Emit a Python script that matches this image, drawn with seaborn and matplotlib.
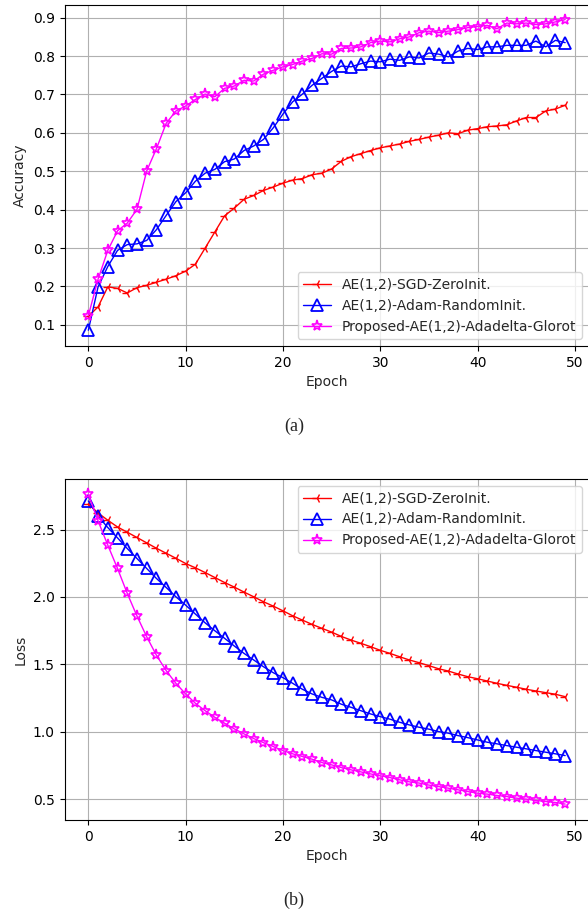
import numpy as np
import pandas as pd
import matplotlib
matplotlib.use("Agg")
import matplotlib.pyplot as plt
import seaborn as sns

epochs = list(range(50))
labels = ["AE(1,2)-SGD-ZeroInit.", "AE(1,2)-Adam-RandomInit.", "Proposed-AE(1,2)-Adadelta-Glorot"]

acc_sgd = [0.122, 0.147, 0.199, 0.195, 0.183, 0.197, 0.203, 0.211, 0.219, 0.228,
           0.240, 0.258, 0.300, 0.342, 0.384, 0.404, 0.427, 0.437, 0.450, 0.459,
           0.469, 0.477, 0.481, 0.491, 0.495, 0.506, 0.526, 0.538, 0.546, 0.554,
           0.561, 0.566, 0.571, 0.578, 0.583, 0.589, 0.594, 0.600, 0.598, 0.607,
           0.611, 0.616, 0.618, 0.621, 0.631, 0.640, 0.640, 0.657, 0.662, 0.672]
acc_adam = [0.086, 0.199, 0.252, 0.294, 0.309, 0.311, 0.320, 0.348, 0.385, 0.421,
            0.444, 0.474, 0.495, 0.505, 0.525, 0.532, 0.554, 0.566, 0.583, 0.613,
            0.649, 0.681, 0.701, 0.724, 0.742, 0.760, 0.774, 0.772, 0.780, 0.787,
            0.785, 0.792, 0.789, 0.798, 0.795, 0.808, 0.805, 0.798, 0.813, 0.820,
            0.817, 0.824, 0.824, 0.828, 0.828, 0.828, 0.839, 0.824, 0.841, 0.835]
acc_adadelta = [0.124, 0.219, 0.294, 0.345, 0.365, 0.401, 0.501, 0.559, 0.625, 0.657,
                0.670, 0.687, 0.701, 0.694, 0.716, 0.722, 0.737, 0.735, 0.753, 0.763,
                0.772, 0.778, 0.787, 0.794, 0.806, 0.805, 0.820, 0.821, 0.824, 0.835,
                0.839, 0.837, 0.845, 0.850, 0.861, 0.865, 0.861, 0.865, 0.869, 0.874,
                0.877, 0.880, 0.871, 0.886, 0.884, 0.886, 0.882, 0.884, 0.889, 0.895]

loss_sgd = [2.690, 2.623, 2.569, 2.519, 2.480, 2.441, 2.401, 2.361, 2.324, 2.287,
            2.248, 2.216, 2.181, 2.144, 2.107, 2.073, 2.036, 2.001, 1.964, 1.932,
            1.897, 1.860, 1.828, 1.796, 1.767, 1.739, 1.707, 1.680, 1.656, 1.631,
            1.604, 1.581, 1.556, 1.532, 1.512, 1.490, 1.467, 1.450, 1.428, 1.408,
            1.393, 1.376, 1.359, 1.344, 1.330, 1.315, 1.302, 1.290, 1.278, 1.260]
loss_adam = [2.712, 2.599, 2.515, 2.438, 2.359, 2.285, 2.211, 2.137, 2.070, 2.001,
             1.939, 1.873, 1.808, 1.749, 1.693, 1.636, 1.581, 1.532, 1.482, 1.438,
             1.401, 1.359, 1.315, 1.280, 1.255, 1.236, 1.204, 1.181, 1.156, 1.132,
             1.112, 1.093, 1.070, 1.050, 1.033, 1.019, 1.001, 0.989, 0.971, 0.956,
             0.939, 0.922, 0.910, 0.897, 0.885, 0.873, 0.860, 0.848, 0.836, 0.823]
loss_adadelta = [2.762, 2.564, 2.384, 2.211, 2.026, 1.858, 1.704, 1.567, 1.453, 1.359,
                 1.280, 1.211, 1.156, 1.107, 1.063, 1.021, 0.984, 0.949, 0.919, 0.890,
                 0.860, 0.836, 0.816, 0.796, 0.771, 0.754, 0.734, 0.717, 0.702, 0.687,
                 0.673, 0.660, 0.643, 0.628, 0.619, 0.604, 0.593, 0.581, 0.569, 0.556,
                 0.544, 0.537, 0.527, 0.519, 0.507, 0.500, 0.490, 0.482, 0.475, 0.463]

sns.set_style("ticks")
plt.rcParams["font.family"] = ["DejaVu Sans"]

fig = plt.figure(figsize=(5.88, 9.13), dpi=100)
ax1 = fig.add_axes([64.5 / 588, 1 - 346 / 913, 524.5 / 588, 341 / 913])
ax2 = fig.add_axes([64.5 / 588, 1 - 820 / 913, 524.5 / 588, 341 / 913])

styles = [
    dict(color="red", marker="3", markersize=7, markeredgewidth=1.0,
         markeredgecolor="red", markerfacecolor="red", linewidth=1.0),
    dict(color="blue", marker="^", markersize=9, markeredgewidth=1.3,
         markeredgecolor="blue", markerfacecolor="none", linewidth=1.0),
    dict(color="magenta", marker="*", markersize=8, markeredgewidth=1.2,
         markeredgecolor="magenta", markerfacecolor="none", linewidth=1.0),
]

for ax, series, ylabel, loc in [
    (ax1, [acc_sgd, acc_adam, acc_adadelta], "Accuracy", "lower right"),
    (ax2, [loss_sgd, loss_adam, loss_adadelta], "Loss", "upper right"),
]:
    for ys, lab, st in zip(series, labels, styles):
        sns.lineplot(x=epochs, y=ys, ax=ax, label=lab, **st)
    ax.set_xlim(-2.45, 51.45)
    ax.set_xlabel("Epoch", fontsize=10)
    ax.set_ylabel(ylabel, fontsize=10)
    ax.grid(True, color="#b0b0b0", linewidth=0.8)
    for s in ax.spines.values():
        s.set_visible(True)
        s.set_color("black")
        s.set_linewidth(0.8)
    ax.tick_params(axis="both", direction="out", length=3.5, width=0.8,
                   colors="black", labelsize=10)
    leg = ax.legend(loc=loc, fontsize=10, frameon=True, fancybox=True,
                    framealpha=0.8, edgecolor="#cccccc")

ax1.set_ylim(0.045, 0.933)
ax1.set_yticks([0.1, 0.2, 0.3, 0.4, 0.5, 0.6, 0.7, 0.8, 0.9])
ax2.set_ylim(0.345, 2.875)
ax2.set_yticks([0.5, 1.0, 1.5, 2.0, 2.5])
ax1.set_xticks([0, 10, 20, 30, 40, 50])
ax2.set_xticks([0, 10, 20, 30, 40, 50])

fig.text(0.5, 1 - 426 / 913, "(a)", ha="center", va="center",
         fontsize=13, family=["Liberation Serif", "DejaVu Serif"])
fig.text(0.5, 1 - 900 / 913, "(b)", ha="center", va="center",
         fontsize=13, family=["Liberation Serif", "DejaVu Serif"])

fig.savefig("out.png", dpi=100)
